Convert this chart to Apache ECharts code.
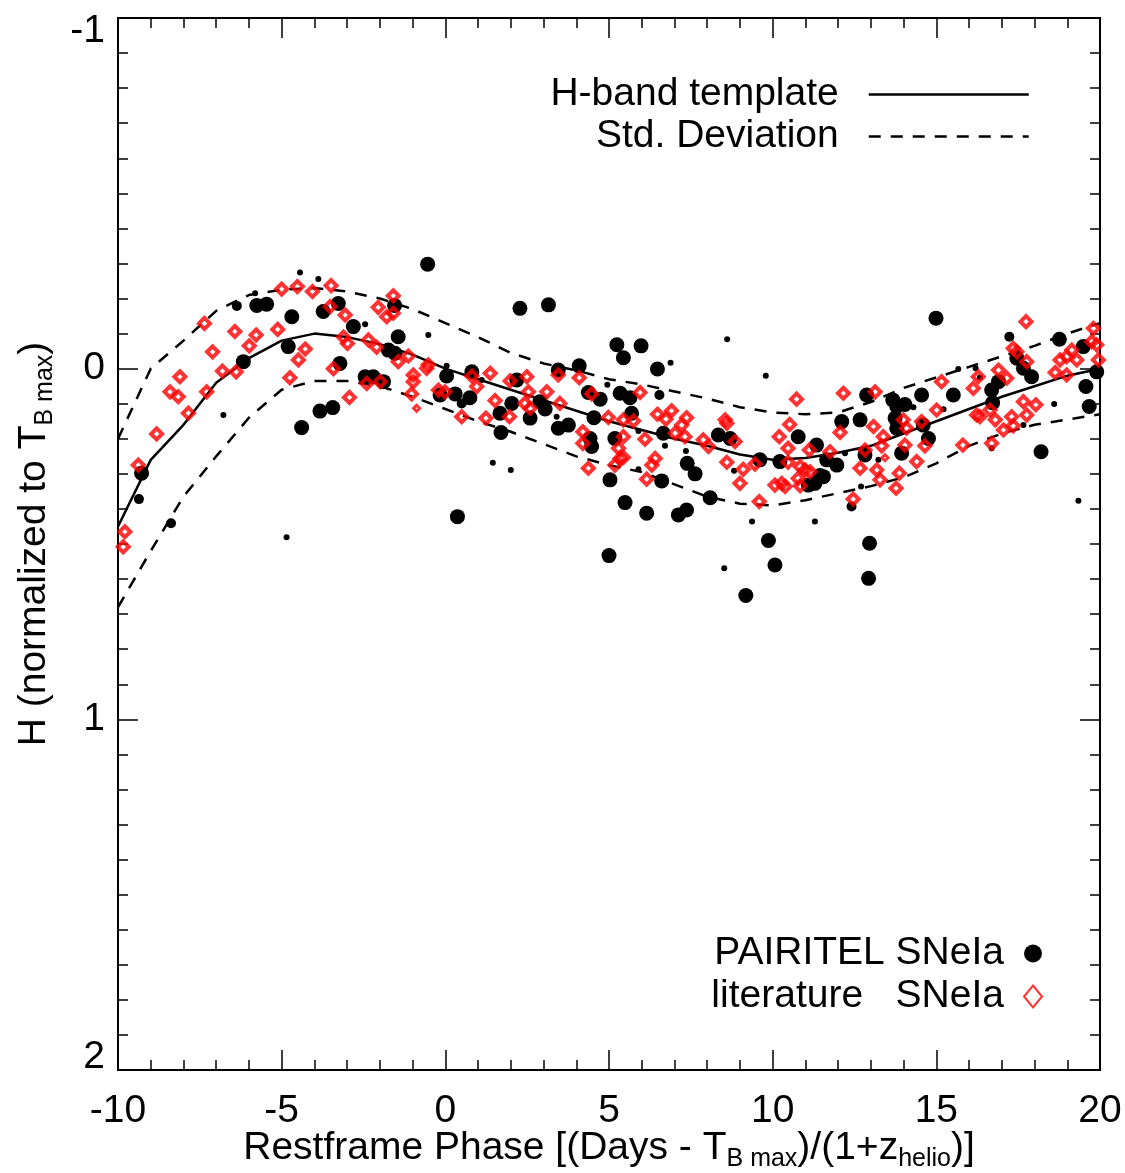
<!DOCTYPE html>
<html><head><meta charset="utf-8">
<script src="https://cdn.jsdelivr.net/npm/echarts/dist/echarts.min.js"></script>
<style>html,body{margin:0;padding:0;background:#fff}#c{width:1125px;height:1173px}</style>
</head><body><div id="c"></div><script>
const FONT = '"Liberation Sans", Arial, Helvetica, sans-serif';

// Template curve and standard deviation envelopes (phase in days, H mag)
const templatePhase = [-10,-9,-8,-7,-6,-5,-4,-3,-2,-1,0,1,2,3,4,5,6,7,8,9,10,11,12,13,14,15,16,17,18,19,20];
const templateMag   = [0.45,0.26,0.16,0.04,-0.03,-0.08,-0.10,-0.09,-0.07,-0.04,0.0,0.03,0.06,0.09,0.12,0.15,0.175,0.20,0.22,0.245,0.26,0.255,0.24,0.22,0.185,0.15,0.115,0.08,0.05,0.02,0.0];
const stdUpper      = [0.20,0.00,-0.08,-0.165,-0.21,-0.225,-0.23,-0.22,-0.20,-0.17,-0.13,-0.09,-0.045,-0.015,0.005,0.03,0.045,0.065,0.085,0.11,0.125,0.13,0.125,0.095,0.055,0.025,-0.005,-0.035,-0.065,-0.10,-0.13];
const stdLower      = [0.68,0.52,0.365,0.25,0.14,0.06,0.035,0.035,0.05,0.08,0.115,0.15,0.18,0.215,0.25,0.275,0.295,0.33,0.365,0.385,0.39,0.375,0.355,0.335,0.31,0.27,0.22,0.185,0.16,0.145,0.13];

// PAIRITEL SNeIa points [phase, mag]
const pairitelLarge = [
[-9.28,0.298],[-6.17,-0.02],[-5.76,-0.18],[-5.46,-0.184],[-4.69,-0.148],[-4.80,-0.063],
[-3.73,-0.163],[-3.27,-0.186],[-2.81,-0.12],[-3.22,-0.015],[-3.83,0.121],[-3.44,0.111],[-4.39,0.168],
[-0.54,-0.298],[2.28,-0.172],[3.15,-0.182],[-1.44,-0.091],[-2.45,0.023],[-2.2,0.023],[-1.89,0.037],
[-1.74,-0.053],[-1.54,-0.044],[-1.55,-0.18],[0.04,0.021],[0.81,0.009],[0.3,0.072],[0.75,0.083],[-0.16,0.075],
[1.67,0.127],[2.03,0.099],[1.7,0.182],[2.59,0.141],[2.18,0.032],[3.05,0.115],[2.89,0.094],[3.45,0.17],[3.76,0.161],
[4.09,-0.008],[3.45,0.004],[4.37,0.068],[0.37,0.422],[5.24,-0.068],[5.98,-0.065],[5.44,-0.031],[6.48,0.001],
[4.73,0.087],[5.34,0.07],[5.64,0.083],[4.54,0.14],[5.69,0.127],[4.42,0.199],[4.47,0.222],[5.18,0.199],[6.66,0.184],
[8.34,0.189],[8.7,0.199],[10.78,0.194],[11.34,0.218],[9.61,0.26],[10.22,0.265],[7.39,0.27],[7.63,0.3],
[5.03,0.317],[6.61,0.32],[8.09,0.368],[5.49,0.382],[6.15,0.412],[7.12,0.417],[7.37,0.403],
[11.09,0.332],[11.29,0.327],[9.87,0.49],[10.07,0.56],[5.0,0.533],[9.18,0.647],[11.45,0.305],
[12.96,0.498],[12.93,0.598],[14.99,-0.144],[18.76,-0.084],[19.49,-0.063],[19.9,0.009],[19.57,0.051],[19.67,0.108],
[17.46,-0.03],[17.66,-0.001],[17.91,0.023],[16.69,0.061],[16.9,0.037],[16.72,0.097],
[15.52,0.075],[14.55,0.075],[12.87,0.075],[13.67,0.089],[13.79,0.108],[14.04,0.102],
[13.74,0.141],[13.79,0.17],[14.6,0.161],[14.76,0.199],[12.67,0.146],[12.11,0.151],
[13.94,0.241],[12.82,0.246],[11.65,0.26],[11.96,0.275],[11.55,0.308],[18.2,0.237]
];
const pairitelMedium = [
[-9.36,0.372],[-8.38,0.441],[-6.37,-0.179],[6.54,0.075],[17.23,-0.091],[12.41,0.393],[0.5,0.099]
];
const pairitelSmall = [
[-6.78,0.132],[-4.85,0.481],[-4.44,-0.274],[-3.88,-0.256],[-5.81,-0.215],
[-2.45,-0.127],[-0.52,-0.096],[0.04,-0.008],[1.11,0.032],[3.4,0.137],[1.45,0.268],[2.0,0.289],
[8.61,-0.084],[6.88,-0.017],[9.79,0.02],[4.95,0.046],[5.9,0.178],[6.71,0.22],[7.35,0.235],[5.9,0.287],
[8.82,0.291],[9.37,0.436],[11.29,0.436],[8.52,0.569],[15.67,0.001],[16.2,-0.001],[16.33,0.025],
[14.3,0.11],[15.22,0.116],[18.6,0.101],[17.66,0.161],[12.21,0.241],[13.23,0.26],[12.7,0.336],[19.34,0.377],[16.69,0.227]
];

// literature SNeIa points [phase, mag]
const literatureLarge = [
[-9.79,0.465],[-9.84,0.508],[-9.38,0.275],[-8.82,0.186],[-8.41,0.066],[-8.16,0.08],[-8.11,0.023],[-7.85,0.127],
[-7.36,-0.129],[-7.29,0.066],[-7.11,-0.048],[-6.81,0.007],[-6.39,0.009],[-6.43,-0.106],[-5.99,-0.065],[-5.78,-0.096],
[-5.12,-0.112],[-5.0,-0.227],[-4.52,-0.234],[-4.06,-0.22],[-3.49,-0.237],[-4.75,0.026],[-4.49,-0.025],[-4.28,-0.056],
[-3.52,-0.177],[-3.06,-0.153],[-3.42,0.0],[-3.11,-0.09],[-2.99,-0.072],[-2.93,0.082],
[-1.59,-0.208],[-2.05,-0.175],[-1.79,-0.148],[-1.59,-0.158],[-2.35,-0.082],[-2.1,-0.061],
[-2.4,0.042],[-1.99,0.037],[-1.44,-0.02],[-1.13,-0.036],[-0.52,-0.011],[-0.57,-0.001],[-0.98,0.018],[-0.98,0.037],[-1.03,0.072],
[-0.21,0.061],[-0.01,0.066],[0.5,0.137],[0.81,0.021],[0.96,0.051],[1.37,0.013],[1.24,0.141],[1.52,0.091],[1.96,0.137],
[1.98,0.035],[2.49,0.023],[2.54,0.066],[2.43,0.099],[2.59,0.113],[3.1,0.066],[3.45,0.018],[3.5,0.099],[4.09,0.026],
[4.2,0.18],[4.2,0.213],[4.37,0.284],[4.47,0.072],[5.95,0.068],[4.98,0.139],[5.44,0.146],[5.75,0.149],[5.44,0.194],
[5.29,0.227],[5.34,0.256],[5.44,0.253],[5.18,0.275],[6.1,0.201],[6.41,0.256],[6.31,0.275],[6.15,0.315],[6.48,0.13],
[6.74,0.144],[6.91,0.12],[7.37,0.14],[7.22,0.161],[7.02,0.184],[7.32,0.194],[7.88,0.203],[8.04,0.222],[8.6,0.156],
[8.55,0.146],[8.85,0.208],[8.6,0.267],[9.1,0.287],[9.0,0.327],[9.46,0.272],[9.59,0.379],[10.73,0.087],[10.52,0.159],
[10.2,0.194],[10.47,0.227],[11.12,0.232],[10.47,0.267],[10.84,0.279],[10.99,0.289],[10.78,0.313],[10.84,0.334],
[10.07,0.332],[10.28,0.327],[10.38,0.336],
[17.74,-0.134],[19.8,-0.115],[19.75,-0.077],[19.9,-0.068],[19.95,-0.025],[17.35,-0.058],[17.46,-0.048],[17.76,-0.02],
[17.15,0.027],[16.9,0.004],[16.13,0.056],[16.28,0.023],[15.16,0.037],[18.78,-0.025],[18.98,-0.034],[19.14,-0.053],
[19.29,-0.025],[18.63,0.011],[18.98,0.018],[17.66,0.094],[18.04,0.103],[17.76,0.132],[17.3,0.137],[17.35,0.163],
[17.05,0.175],[16.64,0.118],[16.8,0.146],[16.23,0.132],[16.33,0.137],[16.69,0.213],[15.81,0.218],[15.01,0.118],
[14.55,0.151],[14.65,0.22],[14.04,0.218],[13.99,0.146],[14.09,0.17],[14.4,0.265],[13.13,0.066],[13.08,0.165],
[12.16,0.07],[12.06,0.182],[13.38,0.194],[13.33,0.22],[12.82,0.232],[11.75,0.237],[12.67,0.284],[13.18,0.289],
[13.28,0.317],[13.87,0.298],[13.77,0.341],[12.46,0.372],[11.14,0.294]
];
const literatureSmall = [[-0.88,0.113],[13.43,0.254]];

// Axis ticks
const xTicks = {min: -10, max: 20, interval: 5};
const yTicks = {min: -1, max: 2, interval: 1};

const pairs = (xs, ys) => xs.map((x, i) => [x, ys[i]]);

const tickStyle = {color: '#000', width: 1.5};
function xAxisDef(pos, showLabel) {
  return {
    type: 'value', position: pos, min: xTicks.min, max: xTicks.max, interval: xTicks.interval,
    axisLine: {show: true, onZero: false, lineStyle: {color: '#000', width: 2}},
    axisTick: {show: true, inside: true, length: 20, lineStyle: tickStyle},
    minorTick: {show: true, splitNumber: 5, length: 10, lineStyle: tickStyle},
    splitLine: {show: false}, minorSplitLine: {show: false},
    axisLabel: {show: showLabel, fontSize: 39, color: '#000', fontFamily: FONT, margin: 22},
    nameMoveOverlap: false
  };
}
function yAxisDef(pos, showLabel) {
  return {
    type: 'value', position: pos, inverse: true, min: yTicks.min, max: yTicks.max, interval: yTicks.interval,
    axisLine: {show: true, onZero: false, lineStyle: {color: '#000', width: 2}},
    axisTick: {show: true, inside: true, length: 20, lineStyle: tickStyle},
    minorTick: {show: true, splitNumber: 10, length: 10, lineStyle: tickStyle},
    splitLine: {show: false}, minorSplitLine: {show: false},
    axisLabel: {show: showLabel, fontSize: 39, lineHeight: 26, color: '#000', fontFamily: FONT, margin: 13,
      verticalAlignMinLabel: 'top', verticalAlignMaxLabel: 'bottom'},
    nameMoveOverlap: false
  };
}
const xBottom = xAxisDef('bottom', true);
xBottom.name = 'Restframe Phase [(Days - T{s|B max})/(1+z{s|helio})]';
xBottom.nameLocation = 'middle';
xBottom.nameGap = 54;
xBottom.nameTextStyle = {fontSize: 39, color: '#000', fontFamily: FONT, lineHeight: 48,
  rich: {s: {fontSize: 25, color: '#000', fontFamily: FONT, verticalAlign: 'bottom'}}};
const yLeft = yAxisDef('left', true);
yLeft.name = 'H (normalized to T{s|B max})';
yLeft.nameLocation = 'middle';
yLeft.nameGap = 60;
yLeft.nameTextStyle = {fontSize: 39, color: '#000', fontFamily: FONT, lineHeight: 48,
  rich: {s: {fontSize: 25, color: '#000', fontFamily: FONT, verticalAlign: 'bottom'}}};

const redStyle = {color: 'rgba(0,0,0,0)', borderColor: '#ff0000', borderWidth: 4};
const hiddenSymbol = {color: 'rgba(0,0,0,0)', borderColor: 'rgba(0,0,0,0)', borderWidth: 0};

const option = {
  animation: false,
  backgroundColor: '#fff',
  grid: {left: 118, right: 25, top: 18, bottom: 103, containLabel: false, outerBoundsMode: 'none'},
  xAxis: [xBottom, xAxisDef('top', false)],
  yAxis: [yLeft, yAxisDef('right', false)],
  legend: [
    {
      orient: 'vertical', right: 90, top: 70, align: 'right', selectedMode: false,
      itemWidth: 160, itemHeight: 14, itemGap: 3,
      textStyle: {fontSize: 39, color: '#000', fontFamily: FONT, padding: [0, 25, 0, 0]},
      data: [
        {name: 'H-band template', lineStyle: {width: 2.5, color: '#000'}, itemStyle: hiddenSymbol},
        {name: 'Std. Deviation', lineStyle: {width: 2.5, color: '#000', type: [12, 10]}, itemStyle: hiddenSymbol}
      ]
    },
    {
      orient: 'vertical', right: 77, top: 929, align: 'right', selectedMode: false,
      itemWidth: 18, itemHeight: 22, itemGap: 4,
      textStyle: {fontSize: 39, color: '#000', fontFamily: FONT, padding: [0, 15, 0, 0]},
      data: [
        {name: 'PAIRITEL SNeIa', itemStyle: {color: '#000', borderWidth: 0}},
        {name: 'literature   SNeIa', itemStyle: {color: 'rgba(0,0,0,0)', borderColor: '#ff0000', borderWidth: 2}}
      ]
    }
  ],
  series: [
    {name: 'H-band template', type: 'line', data: pairs(templatePhase, templateMag), symbol: 'none', showSymbol: false,
      lineStyle: {color: '#000', width: 2.5}, itemStyle: {color: '#000'}, z: 2},
    {name: 'Std. Deviation', type: 'line', data: pairs(templatePhase, stdUpper), symbol: 'none', showSymbol: false,
      lineStyle: {color: '#000', width: 2.5, type: [12, 10]}, itemStyle: {color: '#000'}, z: 2},
    {name: 'Std. Deviation', type: 'line', data: pairs(templatePhase, stdLower), symbol: 'none', showSymbol: false,
      lineStyle: {color: '#000', width: 2.5, type: [12, 10]}, itemStyle: {color: '#000'}, z: 2},
    {name: 'PAIRITEL SNeIa', type: 'scatter', data: pairitelLarge, symbol: 'circle', symbolSize: 15,
      itemStyle: {color: '#000', opacity: 1}, z: 3},
    {name: 'PAIRITEL SNeIa', type: 'scatter', data: pairitelMedium, symbol: 'circle', symbolSize: 10,
      itemStyle: {color: '#000', opacity: 1}, z: 3},
    {name: 'PAIRITEL SNeIa', type: 'scatter', data: pairitelSmall, symbol: 'circle', symbolSize: 6,
      itemStyle: {color: '#000', opacity: 1}, z: 3},
    {name: 'literature   SNeIa', type: 'scatter', data: literatureLarge, symbol: 'diamond', symbolSize: 11,
      itemStyle: redStyle, z: 4},
    {name: 'literature   SNeIa', type: 'scatter', data: literatureSmall, symbol: 'diamond', symbolSize: 6,
      itemStyle: {color: 'rgba(0,0,0,0)', borderColor: '#ff0000', borderWidth: 3}, z: 4}
  ]
};
const chart = echarts.init(document.getElementById('c'), null, {renderer: 'canvas'});
chart.setOption(option);
</script></body></html>
